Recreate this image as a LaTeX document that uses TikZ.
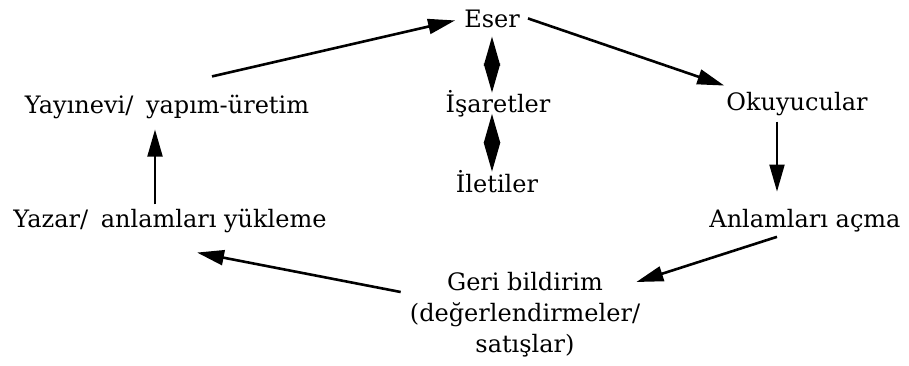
\documentclass[tikz,border=0pt]{standalone}
\usepackage{fontspec}
\setmainfont{DejaVu Serif}
\usetikzlibrary{arrows.meta}
\tikzset{
  lbl/.style={inner sep=0pt, anchor=base, font=\fontsize{24}{31}\selectfont},
  arr/.style={line width=2.6pt, -{Triangle[length=27pt,width=15pt]}},
  twoway/.style={line width=2pt, {Triangle[length=29pt,width=16pt]}-{Triangle[length=29pt,width=16pt]}},
}
\begin{document}
\begin{tikzpicture}[x=1pt,y=-1pt]
  \useasboundingbox (0,0) rectangle (909,365);
  % Labels
  \node[lbl] (eser) at (492,27) {Eser};
  \node[lbl] (isaret) at (498,112) {İşaretler};
  \node[lbl] (ileti) at (497,192) {İletiler};
  \node[lbl] (okur) at (797,110) {Okuyucular};
  \node[lbl] (acma) at (805,227) {Anlamları açma};
  \node[lbl, anchor=north, align=center] (geri) at (525,272) {Geri bildirim\\(değerlendirmeler/\\satışlar)};
  \node[lbl] (yayin) at (167,113) {Yayınevi/\hspace{5pt} yapım-üretim};
  \node[lbl] (yazar) at (170,227) {Yazar/\hspace{5pt} anlamları yükleme};

  % Outer cycle
  \draw[arr] ([xshift=45pt,yshift=18pt]yayin.north) -- ([xshift=-9pt,yshift=-2pt]eser.west);
  \draw[arr] ([xshift=8pt]eser.east) -- ([xshift=-2pt,yshift=6pt]okur.north west);
  \draw[arr, line width=2pt] ([xshift=-20pt,yshift=-6pt]okur.south) -- ([xshift=-20pt,yshift=17pt]okur.south |- acma.north);
  \draw[arr] ([xshift=-28pt,yshift=-5pt]acma.south) -- ([xshift=-4pt,yshift=-10pt]geri.north east);
  \draw[arr] ([xshift=-9pt,yshift=-20pt]geri.north west) -- ([xshift=27pt,yshift=-20pt]yazar.south);
  \draw[arr, line width=2pt] ([xshift=-15pt,yshift=4pt]yazar.north) -- ([xshift=-15pt,yshift=-11pt]yazar.north |- yayin.south);

  % Middle column
  \draw[twoway] ([yshift=-9pt]eser.south) -- ([yshift=-3pt]eser.south |- isaret.north);
  \draw[twoway] ([yshift=3pt]eser.south |- isaret.south) -- ([yshift=-2pt]eser.south |- ileti.north);
\end{tikzpicture}
\end{document}
